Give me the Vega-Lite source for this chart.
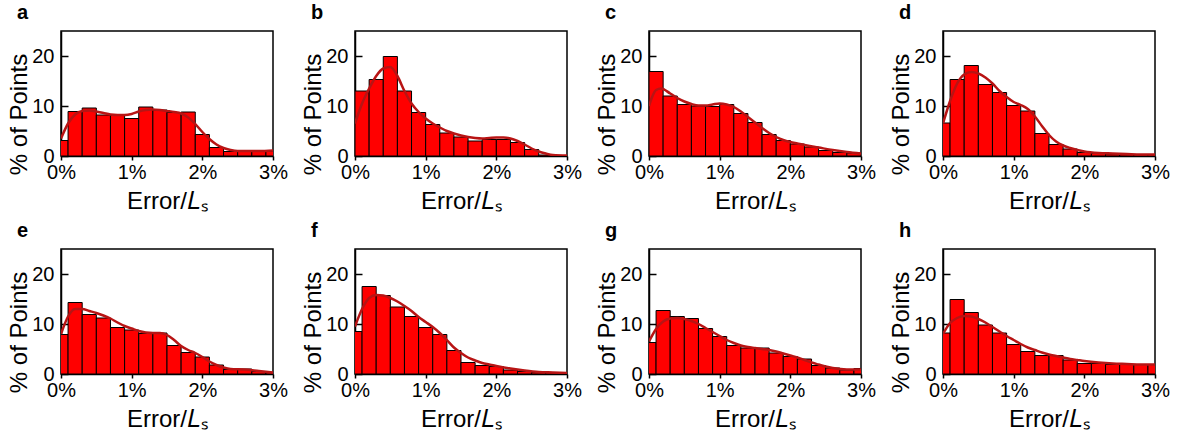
{
  "$schema": "https://vega.github.io/schema/vega-lite/v6.json",
  "autosize": {"type": "pad"},
  "padding": {"left": 7, "top": 2, "right": 0, "bottom": 0},
  "background": "white",
  "datasets": {
    "bars": [
      {"p":"a","lo":-0.1,"hi":0.1,"pct":3.1},{"p":"a","lo":0.1,"hi":0.3,"pct":8.9},{"p":"a","lo":0.3,"hi":0.5,"pct":9.6},{"p":"a","lo":0.5,"hi":0.7,"pct":8.2},
      {"p":"a","lo":0.7,"hi":0.9,"pct":8.1},{"p":"a","lo":0.9,"hi":1.1,"pct":7.5},{"p":"a","lo":1.1,"hi":1.3,"pct":9.8},{"p":"a","lo":1.3,"hi":1.5,"pct":9.2},
      {"p":"a","lo":1.5,"hi":1.7,"pct":8.7},{"p":"a","lo":1.7,"hi":1.9,"pct":8.8},{"p":"a","lo":1.9,"hi":2.1,"pct":4.3},{"p":"a","lo":2.1,"hi":2.3,"pct":1.7},
      {"p":"a","lo":2.3,"hi":2.5,"pct":0.9},{"p":"a","lo":2.5,"hi":2.7,"pct":0.9},{"p":"a","lo":2.7,"hi":2.9,"pct":0.9},{"p":"a","lo":2.9,"hi":3.1,"pct":1.0},

      {"p":"b","lo":0.0,"hi":0.2,"pct":13.0},{"p":"b","lo":0.2,"hi":0.4,"pct":15.3},{"p":"b","lo":0.4,"hi":0.6,"pct":19.9},{"p":"b","lo":0.6,"hi":0.8,"pct":13.0},
      {"p":"b","lo":0.8,"hi":1.0,"pct":8.7},{"p":"b","lo":1.0,"hi":1.2,"pct":6.3},{"p":"b","lo":1.2,"hi":1.4,"pct":4.6},{"p":"b","lo":1.4,"hi":1.6,"pct":3.8},
      {"p":"b","lo":1.6,"hi":1.8,"pct":3.0},{"p":"b","lo":1.8,"hi":2.0,"pct":3.3},{"p":"b","lo":2.0,"hi":2.2,"pct":3.3},{"p":"b","lo":2.2,"hi":2.4,"pct":2.7},
      {"p":"b","lo":2.4,"hi":2.6,"pct":1.3},{"p":"b","lo":2.6,"hi":2.8,"pct":0.2},{"p":"b","lo":2.8,"hi":3.0,"pct":0.1},

      {"p":"c","lo":0.0,"hi":0.2,"pct":16.9},{"p":"c","lo":0.2,"hi":0.4,"pct":12.0},{"p":"c","lo":0.4,"hi":0.6,"pct":10.3},{"p":"c","lo":0.6,"hi":0.8,"pct":10.0},
      {"p":"c","lo":0.8,"hi":1.0,"pct":9.9},{"p":"c","lo":1.0,"hi":1.2,"pct":10.3},{"p":"c","lo":1.2,"hi":1.4,"pct":8.5},{"p":"c","lo":1.4,"hi":1.6,"pct":6.7},
      {"p":"c","lo":1.6,"hi":1.8,"pct":4.3},{"p":"c","lo":1.8,"hi":2.0,"pct":3.1},{"p":"c","lo":2.0,"hi":2.2,"pct":2.4},{"p":"c","lo":2.2,"hi":2.4,"pct":1.8},
      {"p":"c","lo":2.4,"hi":2.6,"pct":1.1},{"p":"c","lo":2.6,"hi":2.8,"pct":0.7},{"p":"c","lo":2.8,"hi":3.0,"pct":0.6},

      {"p":"d","lo":-0.1,"hi":0.1,"pct":6.6},{"p":"d","lo":0.1,"hi":0.3,"pct":15.3},{"p":"d","lo":0.3,"hi":0.5,"pct":18.1},{"p":"d","lo":0.5,"hi":0.7,"pct":14.3},
      {"p":"d","lo":0.7,"hi":0.9,"pct":12.7},{"p":"d","lo":0.9,"hi":1.1,"pct":10.1},{"p":"d","lo":1.1,"hi":1.3,"pct":9.0},{"p":"d","lo":1.3,"hi":1.5,"pct":4.5},
      {"p":"d","lo":1.5,"hi":1.7,"pct":2.3},{"p":"d","lo":1.7,"hi":1.9,"pct":1.4},{"p":"d","lo":1.9,"hi":2.1,"pct":0.7},{"p":"d","lo":2.1,"hi":2.3,"pct":0.5},
      {"p":"d","lo":2.3,"hi":2.5,"pct":0.4},{"p":"d","lo":2.5,"hi":2.7,"pct":0.3},{"p":"d","lo":2.7,"hi":2.9,"pct":0.3},{"p":"d","lo":2.9,"hi":3.1,"pct":0.3},

      {"p":"e","lo":-0.1,"hi":0.1,"pct":7.9},{"p":"e","lo":0.1,"hi":0.3,"pct":14.3},{"p":"e","lo":0.3,"hi":0.5,"pct":11.9},{"p":"e","lo":0.5,"hi":0.7,"pct":11.2},
      {"p":"e","lo":0.7,"hi":0.9,"pct":9.3},{"p":"e","lo":0.9,"hi":1.1,"pct":8.8},{"p":"e","lo":1.1,"hi":1.3,"pct":8.1},{"p":"e","lo":1.3,"hi":1.5,"pct":8.2},
      {"p":"e","lo":1.5,"hi":1.7,"pct":5.7},{"p":"e","lo":1.7,"hi":1.9,"pct":4.3},{"p":"e","lo":1.9,"hi":2.1,"pct":3.4},{"p":"e","lo":2.1,"hi":2.3,"pct":1.8},
      {"p":"e","lo":2.3,"hi":2.5,"pct":0.9},{"p":"e","lo":2.5,"hi":2.7,"pct":1.0},{"p":"e","lo":2.7,"hi":2.9,"pct":0.5},{"p":"e","lo":2.9,"hi":3.1,"pct":0.3},

      {"p":"f","lo":-0.1,"hi":0.1,"pct":8.5},{"p":"f","lo":0.1,"hi":0.3,"pct":17.5},{"p":"f","lo":0.3,"hi":0.5,"pct":15.7},{"p":"f","lo":0.5,"hi":0.7,"pct":13.4},
      {"p":"f","lo":0.7,"hi":0.9,"pct":11.5},{"p":"f","lo":0.9,"hi":1.1,"pct":9.3},{"p":"f","lo":1.1,"hi":1.3,"pct":7.9},{"p":"f","lo":1.3,"hi":1.5,"pct":4.7},
      {"p":"f","lo":1.5,"hi":1.7,"pct":2.3},{"p":"f","lo":1.7,"hi":1.9,"pct":1.7},{"p":"f","lo":1.9,"hi":2.1,"pct":1.5},{"p":"f","lo":2.1,"hi":2.3,"pct":0.8},
      {"p":"f","lo":2.3,"hi":2.5,"pct":0.5},{"p":"f","lo":2.5,"hi":2.7,"pct":0.3},{"p":"f","lo":2.7,"hi":2.9,"pct":0.3},{"p":"f","lo":2.9,"hi":3.1,"pct":0.2},

      {"p":"g","lo":-0.1,"hi":0.1,"pct":6.3},{"p":"g","lo":0.1,"hi":0.3,"pct":12.7},{"p":"g","lo":0.3,"hi":0.5,"pct":11.5},{"p":"g","lo":0.5,"hi":0.7,"pct":11.1},
      {"p":"g","lo":0.7,"hi":0.9,"pct":9.1},{"p":"g","lo":0.9,"hi":1.1,"pct":7.5},{"p":"g","lo":1.1,"hi":1.3,"pct":5.7},{"p":"g","lo":1.3,"hi":1.5,"pct":5.2},
      {"p":"g","lo":1.5,"hi":1.7,"pct":5.2},{"p":"g","lo":1.7,"hi":1.9,"pct":4.2},{"p":"g","lo":1.9,"hi":2.1,"pct":3.5},{"p":"g","lo":2.1,"hi":2.3,"pct":3.0},
      {"p":"g","lo":2.3,"hi":2.5,"pct":1.7},{"p":"g","lo":2.5,"hi":2.7,"pct":1.2},{"p":"g","lo":2.7,"hi":2.9,"pct":0.8},{"p":"g","lo":2.9,"hi":3.1,"pct":1.1},

      {"p":"h","lo":-0.1,"hi":0.1,"pct":8.2},{"p":"h","lo":0.1,"hi":0.3,"pct":14.9},{"p":"h","lo":0.3,"hi":0.5,"pct":12.3},{"p":"h","lo":0.5,"hi":0.7,"pct":9.8},
      {"p":"h","lo":0.7,"hi":0.9,"pct":8.2},{"p":"h","lo":0.9,"hi":1.1,"pct":5.9},{"p":"h","lo":1.1,"hi":1.3,"pct":4.5},{"p":"h","lo":1.3,"hi":1.5,"pct":3.7},
      {"p":"h","lo":1.5,"hi":1.7,"pct":3.7},{"p":"h","lo":1.7,"hi":1.9,"pct":2.8},{"p":"h","lo":1.9,"hi":2.1,"pct":2.1},{"p":"h","lo":2.1,"hi":2.3,"pct":2.1},
      {"p":"h","lo":2.3,"hi":2.5,"pct":1.9},{"p":"h","lo":2.5,"hi":2.7,"pct":1.9},{"p":"h","lo":2.7,"hi":2.9,"pct":1.9},{"p":"h","lo":2.9,"hi":3.1,"pct":1.9}
    ],
    "kde": [
      {"p":"a","x":0,"pct":3.5},{"p":"a","x":0.1,"pct":6.5},{"p":"a","x":0.2,"pct":8.3},{"p":"a","x":0.3,"pct":9.0},{"p":"a","x":0.4,"pct":9.1},
      {"p":"a","x":0.5,"pct":8.9},{"p":"a","x":0.6,"pct":8.6},{"p":"a","x":0.7,"pct":8.3},{"p":"a","x":0.8,"pct":8.2},{"p":"a","x":0.9,"pct":8.2},
      {"p":"a","x":1.0,"pct":8.4},{"p":"a","x":1.1,"pct":8.9},{"p":"a","x":1.2,"pct":9.2},{"p":"a","x":1.3,"pct":9.3},{"p":"a","x":1.4,"pct":9.2},
      {"p":"a","x":1.5,"pct":9.0},{"p":"a","x":1.6,"pct":8.8},{"p":"a","x":1.7,"pct":8.5},{"p":"a","x":1.8,"pct":7.7},{"p":"a","x":1.9,"pct":6.4},
      {"p":"a","x":2.0,"pct":4.8},{"p":"a","x":2.1,"pct":3.4},{"p":"a","x":2.2,"pct":2.3},{"p":"a","x":2.3,"pct":1.6},{"p":"a","x":2.4,"pct":1.2},
      {"p":"a","x":2.5,"pct":1.0},{"p":"a","x":2.6,"pct":1.0},{"p":"a","x":2.8,"pct":1.0},{"p":"a","x":3.0,"pct":1.1},

      {"p":"b","x":0,"pct":6.5},{"p":"b","x":0.1,"pct":10.5},{"p":"b","x":0.2,"pct":13.5},{"p":"b","x":0.3,"pct":16.0},{"p":"b","x":0.4,"pct":17.5},
      {"p":"b","x":0.5,"pct":17.8},{"p":"b","x":0.6,"pct":16.0},{"p":"b","x":0.7,"pct":13.0},{"p":"b","x":0.8,"pct":10.5},{"p":"b","x":0.9,"pct":8.8},
      {"p":"b","x":1.0,"pct":7.5},{"p":"b","x":1.1,"pct":6.5},{"p":"b","x":1.2,"pct":5.7},{"p":"b","x":1.3,"pct":5.0},{"p":"b","x":1.4,"pct":4.5},
      {"p":"b","x":1.5,"pct":4.1},{"p":"b","x":1.6,"pct":3.8},{"p":"b","x":1.7,"pct":3.6},{"p":"b","x":1.8,"pct":3.5},{"p":"b","x":1.9,"pct":3.6},
      {"p":"b","x":2.0,"pct":3.7},{"p":"b","x":2.1,"pct":3.7},{"p":"b","x":2.2,"pct":3.5},{"p":"b","x":2.3,"pct":3.0},{"p":"b","x":2.4,"pct":2.3},
      {"p":"b","x":2.5,"pct":1.5},{"p":"b","x":2.6,"pct":0.9},{"p":"b","x":2.7,"pct":0.5},{"p":"b","x":2.8,"pct":0.2},{"p":"b","x":3.0,"pct":0.1},

      {"p":"c","x":0,"pct":10.0},{"p":"c","x":0.05,"pct":12.0},{"p":"c","x":0.1,"pct":13.2},{"p":"c","x":0.17,"pct":13.5},{"p":"c","x":0.3,"pct":12.5},
      {"p":"c","x":0.4,"pct":11.6},{"p":"c","x":0.5,"pct":10.9},{"p":"c","x":0.6,"pct":10.4},{"p":"c","x":0.7,"pct":10.1},{"p":"c","x":0.8,"pct":10.1},
      {"p":"c","x":0.9,"pct":10.3},{"p":"c","x":1.0,"pct":10.5},{"p":"c","x":1.1,"pct":10.3},{"p":"c","x":1.2,"pct":9.8},{"p":"c","x":1.3,"pct":8.9},
      {"p":"c","x":1.4,"pct":7.8},{"p":"c","x":1.5,"pct":6.7},{"p":"c","x":1.6,"pct":5.6},{"p":"c","x":1.7,"pct":4.6},{"p":"c","x":1.8,"pct":3.8},
      {"p":"c","x":1.9,"pct":3.2},{"p":"c","x":2.0,"pct":2.8},{"p":"c","x":2.1,"pct":2.5},{"p":"c","x":2.2,"pct":2.2},{"p":"c","x":2.4,"pct":1.7},
      {"p":"c","x":2.6,"pct":1.2},{"p":"c","x":2.8,"pct":0.8},{"p":"c","x":3.0,"pct":0.5},

      {"p":"d","x":0,"pct":6.5},{"p":"d","x":0.1,"pct":11.0},{"p":"d","x":0.2,"pct":14.5},{"p":"d","x":0.3,"pct":16.3},{"p":"d","x":0.4,"pct":16.8},
      {"p":"d","x":0.5,"pct":16.5},{"p":"d","x":0.6,"pct":15.7},{"p":"d","x":0.7,"pct":14.5},{"p":"d","x":0.8,"pct":13.0},{"p":"d","x":0.9,"pct":11.8},
      {"p":"d","x":1.0,"pct":10.8},{"p":"d","x":1.1,"pct":10.2},{"p":"d","x":1.2,"pct":9.4},{"p":"d","x":1.3,"pct":7.9},{"p":"d","x":1.4,"pct":6.0},
      {"p":"d","x":1.5,"pct":4.2},{"p":"d","x":1.6,"pct":2.9},{"p":"d","x":1.7,"pct":2.1},{"p":"d","x":1.8,"pct":1.6},{"p":"d","x":1.9,"pct":1.2},
      {"p":"d","x":2.0,"pct":0.9},{"p":"d","x":2.2,"pct":0.6},{"p":"d","x":2.4,"pct":0.5},{"p":"d","x":2.6,"pct":0.4},{"p":"d","x":2.8,"pct":0.3},
      {"p":"d","x":3.0,"pct":0.3},

      {"p":"e","x":0,"pct":8.0},{"p":"e","x":0.1,"pct":11.5},{"p":"e","x":0.2,"pct":13.0},{"p":"e","x":0.3,"pct":13.0},{"p":"e","x":0.4,"pct":12.6},
      {"p":"e","x":0.5,"pct":12.2},{"p":"e","x":0.6,"pct":11.7},{"p":"e","x":0.7,"pct":11.1},{"p":"e","x":0.8,"pct":10.3},{"p":"e","x":0.9,"pct":9.6},
      {"p":"e","x":1.0,"pct":9.1},{"p":"e","x":1.1,"pct":8.6},{"p":"e","x":1.2,"pct":8.3},{"p":"e","x":1.3,"pct":8.2},{"p":"e","x":1.4,"pct":8.2},
      {"p":"e","x":1.5,"pct":7.8},{"p":"e","x":1.6,"pct":6.8},{"p":"e","x":1.7,"pct":5.6},{"p":"e","x":1.8,"pct":4.8},{"p":"e","x":1.9,"pct":4.2},
      {"p":"e","x":2.0,"pct":3.4},{"p":"e","x":2.1,"pct":2.5},{"p":"e","x":2.2,"pct":1.8},{"p":"e","x":2.3,"pct":1.3},{"p":"e","x":2.4,"pct":1.0},
      {"p":"e","x":2.6,"pct":0.9},{"p":"e","x":2.8,"pct":0.6},{"p":"e","x":3.0,"pct":0.3},

      {"p":"f","x":0,"pct":9.5},{"p":"f","x":0.1,"pct":13.0},{"p":"f","x":0.2,"pct":15.2},{"p":"f","x":0.3,"pct":15.8},{"p":"f","x":0.4,"pct":15.7},
      {"p":"f","x":0.5,"pct":15.2},{"p":"f","x":0.6,"pct":14.5},{"p":"f","x":0.7,"pct":13.6},{"p":"f","x":0.8,"pct":12.6},{"p":"f","x":0.9,"pct":11.4},
      {"p":"f","x":1.0,"pct":10.4},{"p":"f","x":1.1,"pct":9.4},{"p":"f","x":1.2,"pct":8.2},{"p":"f","x":1.3,"pct":6.8},{"p":"f","x":1.4,"pct":5.3},
      {"p":"f","x":1.5,"pct":4.2},{"p":"f","x":1.6,"pct":3.3},{"p":"f","x":1.7,"pct":2.7},{"p":"f","x":1.8,"pct":2.2},{"p":"f","x":1.9,"pct":1.9},
      {"p":"f","x":2.0,"pct":1.6},{"p":"f","x":2.2,"pct":1.1},{"p":"f","x":2.4,"pct":0.7},{"p":"f","x":2.6,"pct":0.4},{"p":"f","x":2.8,"pct":0.3},
      {"p":"f","x":3.0,"pct":0.2},

      {"p":"g","x":0,"pct":6.5},{"p":"g","x":0.1,"pct":9.0},{"p":"g","x":0.2,"pct":10.5},{"p":"g","x":0.3,"pct":11.1},{"p":"g","x":0.4,"pct":11.2},
      {"p":"g","x":0.5,"pct":11.0},{"p":"g","x":0.6,"pct":10.6},{"p":"g","x":0.7,"pct":10.0},{"p":"g","x":0.8,"pct":9.2},{"p":"g","x":0.9,"pct":8.4},
      {"p":"g","x":1.0,"pct":7.6},{"p":"g","x":1.1,"pct":6.8},{"p":"g","x":1.2,"pct":6.2},{"p":"g","x":1.3,"pct":5.7},{"p":"g","x":1.4,"pct":5.4},
      {"p":"g","x":1.5,"pct":5.2},{"p":"g","x":1.6,"pct":5.0},{"p":"g","x":1.7,"pct":4.8},{"p":"g","x":1.8,"pct":4.5},{"p":"g","x":1.9,"pct":4.1},
      {"p":"g","x":2.0,"pct":3.7},{"p":"g","x":2.1,"pct":3.3},{"p":"g","x":2.2,"pct":2.8},{"p":"g","x":2.3,"pct":2.3},{"p":"g","x":2.4,"pct":1.9},
      {"p":"g","x":2.5,"pct":1.5},{"p":"g","x":2.6,"pct":1.2},{"p":"g","x":2.8,"pct":0.9},{"p":"g","x":3.0,"pct":0.9},

      {"p":"h","x":0,"pct":8.0},{"p":"h","x":0.1,"pct":10.2},{"p":"h","x":0.2,"pct":11.2},{"p":"h","x":0.3,"pct":11.6},{"p":"h","x":0.4,"pct":11.5},
      {"p":"h","x":0.5,"pct":11.0},{"p":"h","x":0.6,"pct":10.3},{"p":"h","x":0.7,"pct":9.4},{"p":"h","x":0.8,"pct":8.5},{"p":"h","x":0.9,"pct":7.6},
      {"p":"h","x":1.0,"pct":6.8},{"p":"h","x":1.1,"pct":6.0},{"p":"h","x":1.2,"pct":5.3},{"p":"h","x":1.3,"pct":4.8},{"p":"h","x":1.4,"pct":4.3},
      {"p":"h","x":1.5,"pct":3.9},{"p":"h","x":1.6,"pct":3.6},{"p":"h","x":1.7,"pct":3.3},{"p":"h","x":1.8,"pct":3.0},{"p":"h","x":1.9,"pct":2.8},
      {"p":"h","x":2.0,"pct":2.6},{"p":"h","x":2.2,"pct":2.3},{"p":"h","x":2.4,"pct":2.1},{"p":"h","x":2.6,"pct":2.0},{"p":"h","x":2.8,"pct":1.9},
      {"p":"h","x":3.0,"pct":1.9}
    ]
  },
  "columns": 4,
  "bounds": "flush",
  "spacing": {"row": 93, "column": 82},
  "concat": [
    {"title": "a", "width": 212, "height": 125, "layer": [
      {"data": {"name": "bars"}, "transform": [{"filter": "datum.p === 'a'"}], "mark": {"type": "bar", "clip": true},
       "encoding": {"x": {"field": "lo", "type": "quantitative", "scale": {"domain": [0, 3], "nice": false, "zero": false}, "axis": {"values": [0, 0.5, 1, 1.5, 2, 2.5, 3], "labelExpr": "datum.value % 1 === 0 ? datum.value + '%' : ''", "title": "Error/𝐿ₛ"}}, "x2": {"field": "hi"},
                    "y": {"field": "pct", "type": "quantitative", "scale": {"domain": [0, 25], "nice": false}, "axis": {"values": [0, 10, 20], "title": "% of Points"}}, "y2": {"datum": 0}}},
      {"data": {"name": "kde"}, "transform": [{"filter": "datum.p === 'a'"}], "mark": {"type": "line", "clip": true, "interpolate": "monotone"},
       "encoding": {"x": {"field": "x", "type": "quantitative"}, "y": {"field": "pct", "type": "quantitative"}}}
    ]},
    {"title": "b", "width": 212, "height": 125, "layer": [
      {"data": {"name": "bars"}, "transform": [{"filter": "datum.p === 'b'"}], "mark": {"type": "bar", "clip": true},
       "encoding": {"x": {"field": "lo", "type": "quantitative", "scale": {"domain": [0, 3], "nice": false, "zero": false}, "axis": {"values": [0, 0.5, 1, 1.5, 2, 2.5, 3], "labelExpr": "datum.value % 1 === 0 ? datum.value + '%' : ''", "title": "Error/𝐿ₛ"}}, "x2": {"field": "hi"},
                    "y": {"field": "pct", "type": "quantitative", "scale": {"domain": [0, 25], "nice": false}, "axis": {"values": [0, 10, 20], "title": "% of Points"}}, "y2": {"datum": 0}}},
      {"data": {"name": "kde"}, "transform": [{"filter": "datum.p === 'b'"}], "mark": {"type": "line", "clip": true, "interpolate": "monotone"},
       "encoding": {"x": {"field": "x", "type": "quantitative"}, "y": {"field": "pct", "type": "quantitative"}}}
    ]},
    {"title": "c", "width": 212, "height": 125, "layer": [
      {"data": {"name": "bars"}, "transform": [{"filter": "datum.p === 'c'"}], "mark": {"type": "bar", "clip": true},
       "encoding": {"x": {"field": "lo", "type": "quantitative", "scale": {"domain": [0, 3], "nice": false, "zero": false}, "axis": {"values": [0, 0.5, 1, 1.5, 2, 2.5, 3], "labelExpr": "datum.value % 1 === 0 ? datum.value + '%' : ''", "title": "Error/𝐿ₛ"}}, "x2": {"field": "hi"},
                    "y": {"field": "pct", "type": "quantitative", "scale": {"domain": [0, 25], "nice": false}, "axis": {"values": [0, 10, 20], "title": "% of Points"}}, "y2": {"datum": 0}}},
      {"data": {"name": "kde"}, "transform": [{"filter": "datum.p === 'c'"}], "mark": {"type": "line", "clip": true, "interpolate": "monotone"},
       "encoding": {"x": {"field": "x", "type": "quantitative"}, "y": {"field": "pct", "type": "quantitative"}}}
    ]},
    {"title": "d", "width": 212, "height": 125, "layer": [
      {"data": {"name": "bars"}, "transform": [{"filter": "datum.p === 'd'"}], "mark": {"type": "bar", "clip": true},
       "encoding": {"x": {"field": "lo", "type": "quantitative", "scale": {"domain": [0, 3], "nice": false, "zero": false}, "axis": {"values": [0, 0.5, 1, 1.5, 2, 2.5, 3], "labelExpr": "datum.value % 1 === 0 ? datum.value + '%' : ''", "title": "Error/𝐿ₛ"}}, "x2": {"field": "hi"},
                    "y": {"field": "pct", "type": "quantitative", "scale": {"domain": [0, 25], "nice": false}, "axis": {"values": [0, 10, 20], "title": "% of Points"}}, "y2": {"datum": 0}}},
      {"data": {"name": "kde"}, "transform": [{"filter": "datum.p === 'd'"}], "mark": {"type": "line", "clip": true, "interpolate": "monotone"},
       "encoding": {"x": {"field": "x", "type": "quantitative"}, "y": {"field": "pct", "type": "quantitative"}}}
    ]},
    {"title": "e", "width": 212, "height": 125, "layer": [
      {"data": {"name": "bars"}, "transform": [{"filter": "datum.p === 'e'"}], "mark": {"type": "bar", "clip": true},
       "encoding": {"x": {"field": "lo", "type": "quantitative", "scale": {"domain": [0, 3], "nice": false, "zero": false}, "axis": {"values": [0, 0.5, 1, 1.5, 2, 2.5, 3], "labelExpr": "datum.value % 1 === 0 ? datum.value + '%' : ''", "title": "Error/𝐿ₛ"}}, "x2": {"field": "hi"},
                    "y": {"field": "pct", "type": "quantitative", "scale": {"domain": [0, 25], "nice": false}, "axis": {"values": [0, 10, 20], "title": "% of Points"}}, "y2": {"datum": 0}}},
      {"data": {"name": "kde"}, "transform": [{"filter": "datum.p === 'e'"}], "mark": {"type": "line", "clip": true, "interpolate": "monotone"},
       "encoding": {"x": {"field": "x", "type": "quantitative"}, "y": {"field": "pct", "type": "quantitative"}}}
    ]},
    {"title": "f", "width": 212, "height": 125, "layer": [
      {"data": {"name": "bars"}, "transform": [{"filter": "datum.p === 'f'"}], "mark": {"type": "bar", "clip": true},
       "encoding": {"x": {"field": "lo", "type": "quantitative", "scale": {"domain": [0, 3], "nice": false, "zero": false}, "axis": {"values": [0, 0.5, 1, 1.5, 2, 2.5, 3], "labelExpr": "datum.value % 1 === 0 ? datum.value + '%' : ''", "title": "Error/𝐿ₛ"}}, "x2": {"field": "hi"},
                    "y": {"field": "pct", "type": "quantitative", "scale": {"domain": [0, 25], "nice": false}, "axis": {"values": [0, 10, 20], "title": "% of Points"}}, "y2": {"datum": 0}}},
      {"data": {"name": "kde"}, "transform": [{"filter": "datum.p === 'f'"}], "mark": {"type": "line", "clip": true, "interpolate": "monotone"},
       "encoding": {"x": {"field": "x", "type": "quantitative"}, "y": {"field": "pct", "type": "quantitative"}}}
    ]},
    {"title": "g", "width": 212, "height": 125, "layer": [
      {"data": {"name": "bars"}, "transform": [{"filter": "datum.p === 'g'"}], "mark": {"type": "bar", "clip": true},
       "encoding": {"x": {"field": "lo", "type": "quantitative", "scale": {"domain": [0, 3], "nice": false, "zero": false}, "axis": {"values": [0, 0.5, 1, 1.5, 2, 2.5, 3], "labelExpr": "datum.value % 1 === 0 ? datum.value + '%' : ''", "title": "Error/𝐿ₛ"}}, "x2": {"field": "hi"},
                    "y": {"field": "pct", "type": "quantitative", "scale": {"domain": [0, 25], "nice": false}, "axis": {"values": [0, 10, 20], "title": "% of Points"}}, "y2": {"datum": 0}}},
      {"data": {"name": "kde"}, "transform": [{"filter": "datum.p === 'g'"}], "mark": {"type": "line", "clip": true, "interpolate": "monotone"},
       "encoding": {"x": {"field": "x", "type": "quantitative"}, "y": {"field": "pct", "type": "quantitative"}}}
    ]},
    {"title": "h", "width": 212, "height": 125, "layer": [
      {"data": {"name": "bars"}, "transform": [{"filter": "datum.p === 'h'"}], "mark": {"type": "bar", "clip": true},
       "encoding": {"x": {"field": "lo", "type": "quantitative", "scale": {"domain": [0, 3], "nice": false, "zero": false}, "axis": {"values": [0, 0.5, 1, 1.5, 2, 2.5, 3], "labelExpr": "datum.value % 1 === 0 ? datum.value + '%' : ''", "title": "Error/𝐿ₛ"}}, "x2": {"field": "hi"},
                    "y": {"field": "pct", "type": "quantitative", "scale": {"domain": [0, 25], "nice": false}, "axis": {"values": [0, 10, 20], "title": "% of Points"}}, "y2": {"datum": 0}}},
      {"data": {"name": "kde"}, "transform": [{"filter": "datum.p === 'h'"}], "mark": {"type": "line", "clip": true, "interpolate": "monotone"},
       "encoding": {"x": {"field": "x", "type": "quantitative"}, "y": {"field": "pct", "type": "quantitative"}}}
    ]}
  ],
  "config": {
    "font": "Liberation Sans",
    "view": {"stroke": "black", "strokeWidth": 1.5},
    "axis": {
      "grid": false,
      "domainColor": "black", "domainWidth": 1.5,
      "tickColor": "black", "tickWidth": 1.5,
      "labelColor": "black", "labelFont": "Liberation Sans", "labelFontSize": 20,
      "titleColor": "black", "titleFont": "Liberation Sans", "titleFontSize": 24, "titleFontWeight": "normal",
      "labelOverlap": false
    },
    "axisX": {"tickSize": 4, "labelPadding": 2, "labelFlush": false, "titlePadding": 7},
    "axisY": {"tickSize": -7, "labelPadding": 14, "titlePadding": 0, "titleY": 83},
    "title": {"anchor": "start", "frame": "group", "dx": -44, "offset": 8, "baseline": "alphabetic", "fontSize": 20, "fontWeight": "bold", "font": "Liberation Sans", "color": "black"},
    "bar": {"fill": "#ff0000", "stroke": "black", "strokeWidth": 1},
    "line": {"stroke": "#b81414", "strokeWidth": 2.5}
  }
}
